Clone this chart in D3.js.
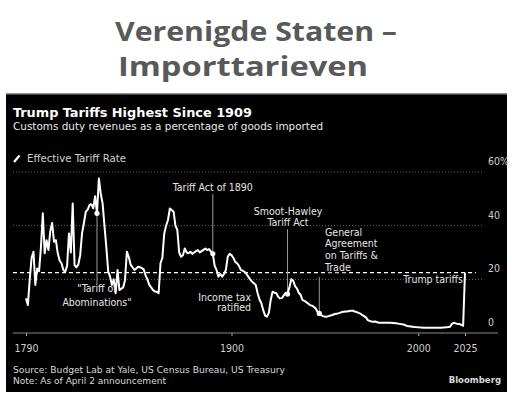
<!DOCTYPE html>
<html>
<head>
<meta charset="utf-8">
<script src="https://cdn.jsdelivr.net/npm/d3@7"></script>
<style>
  html,body{margin:0;padding:0;background:#fff;}
  svg{display:block;}
</style>
</head>
<body>
<svg id="chart" width="512" height="393"></svg>
<script>
const years = [1790,1791,1792,1793,1794,1795,1796,1797,1798,1799,1800,1801,1802,1803,1804,1805,1806,1807,1808,1809,
1810,1811,1812,1813,1814,1815,1816,1817,1818,1819,1820,1821,1822,1823,1824,1825,1826,1827,1828,1829,
1830,1831,1832,1833,1834,1835,1836,1837,1838,1839,1840,1841,1842,1843,1844,1845,1846,1847,1848,1849,
1850,1851,1852,1853,1854,1855,1856,1857,1858,1859,1860,1861,1862,1863,1864,1865,1866,1867,1868,1869,
1870,1871,1872,1873,1874,1875,1876,1877,1878,1879,1880,1881,1882,1883,1884,1885,1886,1887,1888,1889,
1890,1891,1892,1893,1894,1895,1896,1897,1898,1899,1900,1901,1902,1903,1904,1905,1906,1907,1908,1909,
1910,1911,1912,1913,1914,1915,1916,1917,1918,1919,1920,1921,1922,1923,1924,1925,1926,1927,1928,1929,
1930,1931,1932,1933,1934,1935,1936,1937,1938,1939,1940,1941,1942,1943,1944,1945,1946,1947,1948,1949,
1950,1951,1952,1953,1954,1955,1956,1957,1958,1959,1960,1961,1962,1963,1964,1965,1966,1967,1968,1969,
1970,1971,1972,1973,1974,1975,1976,1977,1978,1979,1980,1982,1985,1988,1990,1992,1994,1996,1998,2000,
2003,2006,2009,2012,2015,2017,2018,2019,2020,2021,2022,2023,2024,2025];
const tariffRate = [12.9,10.4,20,28,30.3,17.9,24,23,32,44.6,29.7,34.6,30.9,38,41,34,34.6,29.7,27,26,
23.5,22.8,25,37.1,30,48.3,25.3,24.5,25.5,29,37.1,41,45.2,46,47.7,48,46.5,51,44.6,57.6,
52,48.3,40,32,23,21,17.9,20,14.8,23.5,16,16.5,17,19.7,30.3,28.4,25.5,24.5,23.5,24,
24.7,24.5,24.2,23.7,21.5,20,17.9,17,16,15.5,15.4,14.8,26,28,37.1,40,42.1,46.4,45.8,45.2,
40,38.4,30,28.4,29,31.5,30,29.7,30.3,29.5,30,30.5,30.9,30,30.5,31,31.5,30.9,31.3,30.3,
29.5,25,23.5,21,22,21,22,23.5,28.4,29.5,29,28,26.5,26,25,23.5,23.2,22.8,22,21,
20,19.1,18.5,17.9,14.8,12.5,11.1,8.5,6.5,6.1,7.5,12.3,15.4,15,14.8,13.5,12.9,13,14,15,
14.5,17,20,19.5,17.5,16.6,15,14.2,12.3,12,11.5,11,10.4,10.2,9.8,9.2,7.9,7.3,6.7,6.3,
6.1,6.1,6.3,6.5,6.7,7,7.2,7.3,7.5,7.8,7.9,8,8,8.2,8.3,8.3,8,7.8,7.5,7.2,
6.7,6.3,5.8,4.8,4.5,4.3,4.2,4.3,4,3.8,3.8,3.8,3.8,3.6,3.4,3.2,2.6,2.4,2.2,2.1,
2,2,2,2,2.1,2.3,3.4,3.8,3.6,3.4,3.4,3,2.7,22.5];
const yTicks = [0,20,40,60];
const yTickLabels = ["0","20","40","60%"];
const xTicks = [1790,1900,2000,2025];
const annoYears = [1828,1890,1930,1947];

const svg = d3.select("#chart");
const F = '"DejaVu Sans Condensed","DejaVu Sans",sans-serif';

// Heading
svg.append("text").attr("x",256).attr("y",41).attr("text-anchor","middle")
  .attr("font-family",'"Open Sans",Lato,sans-serif').attr("font-weight",700).attr("font-size",26)
  .attr("fill","#595959").attr("textLength",282).attr("lengthAdjust","spacingAndGlyphs")
  .text("Verenigde Staten –");
svg.append("text").attr("x",243).attr("y",76).attr("text-anchor","middle")
  .attr("font-family",'"Open Sans",Lato,sans-serif').attr("font-weight",700).attr("font-size",26)
  .attr("fill","#595959").attr("textLength",250).attr("lengthAdjust","spacingAndGlyphs")
  .text("Importtarieven");

// Panel
svg.append("rect").attr("x",6).attr("y",94).attr("width",501).attr("height",298).attr("fill","#000");
svg.append("line").attr("x1",6).attr("x2",507).attr("y1",94).attr("y2",94).attr("stroke","#666").attr("stroke-width",1.5);

const x = d3.scaleLinear().domain([1790,2025]).range([26,465]);
const y = d3.scaleLinear().domain([0,60]).range([333,172]);

// Titles
svg.append("text").attr("x",13).attr("y",117).attr("font-family",F).attr("font-weight",700)
  .attr("font-size",12.5).attr("fill","#fff").attr("textLength",239).attr("lengthAdjust","spacingAndGlyphs")
  .text("Trump Tariffs Highest Since 1909");
svg.append("text").attr("x",13).attr("y",130).attr("font-family",F)
  .attr("font-size",11).attr("fill","#e8e8e8").attr("textLength",310).attr("lengthAdjust","spacingAndGlyphs")
  .text("Customs duty revenues as a percentage of goods imported");
// Legend
svg.append("line").attr("x1",14).attr("y1",162).attr("x2",19.5).attr("y2",155.5)
  .attr("stroke","#fff").attr("stroke-width",2.2);
svg.append("text").attr("x",27).attr("y",162).attr("font-family",F)
  .attr("font-size",10.5).attr("fill","#d0d0d0").attr("textLength",99).attr("lengthAdjust","spacingAndGlyphs")
  .text("Effective Tariff Rate");

// Grid
svg.append("g").selectAll("line").data(yTicks.filter(d=>d>0)).join("line")
  .attr("x1",13).attr("x2",482).attr("y1",d=>y(d)).attr("y2",d=>y(d))
  .attr("stroke","#6a6a6a").attr("stroke-width",1).attr("stroke-dasharray","1,2");
svg.append("g").selectAll("text").data(yTicks).join("text")
  .attr("x",488).attr("y",d=>y(d)-7).attr("font-family",F).attr("font-size",10.5)
  .attr("fill","#cfcfcf").text((d,i)=>yTickLabels[i]);

// X axis
const xAxis = d3.axisBottom(x).tickValues(xTicks).tickFormat(d3.format("d")).tickSize(3).tickPadding(9);
const gx = svg.append("g").attr("transform","translate(0,333)").call(xAxis);
gx.select(".domain").remove();
gx.selectAll(".tick line").attr("stroke","#aaa");
gx.selectAll(".tick text").attr("fill","#cfcfcf").attr("font-family",F).attr("font-size",10.5);
svg.append("line").attr("x1",13).attr("x2",498).attr("y1",333).attr("y2",333).attr("stroke","#888").attr("stroke-width",1);

// Dashed reference at current level
const lastVal = tariffRate[tariffRate.length-1];
svg.append("line").attr("x1",13).attr("x2",476).attr("y1",y(lastVal)).attr("y2",y(lastVal))
  .attr("stroke","#fff").attr("stroke-width",1.3).attr("stroke-dasharray","4,3");

// Annotation leader lines
const valAt = yr => tariffRate[years.indexOf(yr)];
const lineEnds = {1828:284,1890:194,1930:229,1947:277};
const aG = svg.append("g");
annoYears.forEach(yr=>{
  const px = x(yr), py = y(valAt(yr));
  aG.append("line").attr("x1",px).attr("x2",px).attr("y1",py).attr("y2",lineEnds[yr]).attr("stroke","#9a9a9a");
});

const tG = svg.append("g").attr("font-family",F).attr("font-size",10.5).attr("fill","#e6e6e6")
  .attr("stroke","#000").attr("stroke-width",2.5).attr("paint-order","stroke");
function lbl(tx,ty,anchor,lines,dy){
  lines.forEach((s,i)=>tG.append("text").attr("x",tx).attr("y",ty+i*dy).attr("text-anchor",anchor).text(s));
}
lbl(x(1890),190.5,"middle",["Tariff Act of 1890"],11);
lbl(x(1930)+0.5,214.5,"middle",["Smoot-Hawley","Tariff Act"],11);
lbl(325,235.5,"start",["General","Agreement","on Tariffs &","Trade"],11.7);
lbl(463,283,"end",["Trump tariffs"],11);
lbl(251,300.5,"end",["Income tax","ratified"],10.5);

// Line
const line = d3.line().x((d,i)=>x(years[i])).y(d=>y(d)).curve(d3.curveLinear);
svg.append("path").datum(tariffRate).attr("d",line).attr("fill","none")
  .attr("stroke","#fff").attr("stroke-width",2).attr("stroke-linejoin","round");

// "Tariff of Abominations"
const tG2 = svg.append("g").attr("font-family",F).attr("font-size",10.5).attr("fill","#e6e6e6");
["\"Tariff of","Abominations\""].forEach((s,i)=>tG2.append("text").attr("x",x(1828)).attr("y",292+i*13.5).attr("text-anchor","middle").text(s));

// markers
svg.append("g").selectAll("circle").data(annoYears).join("circle")
  .attr("cx",d=>x(d)).attr("cy",d=>y(valAt(d))).attr("r",2.6).attr("fill","#fff");

// Footer
svg.append("text").attr("x",13).attr("y",373).attr("font-family",F).attr("font-size",9)
  .attr("fill","#d8d8d8").attr("textLength",272).attr("lengthAdjust","spacingAndGlyphs")
  .text("Source: Budget Lab at Yale, US Census Bureau, US Treasury");
svg.append("text").attr("x",13).attr("y",383.5).attr("font-family",F).attr("font-size",9)
  .attr("fill","#d8d8d8").attr("textLength",153).attr("lengthAdjust","spacingAndGlyphs")
  .text("Note: As of April 2 announcement");
svg.append("text").attr("x",501).attr("y",383).attr("text-anchor","end").attr("font-family",F)
  .attr("font-weight",700).attr("font-size",9.5).attr("fill","#d8d8d8")
  .text("Bloomberg");
</script>
</body>
</html>
